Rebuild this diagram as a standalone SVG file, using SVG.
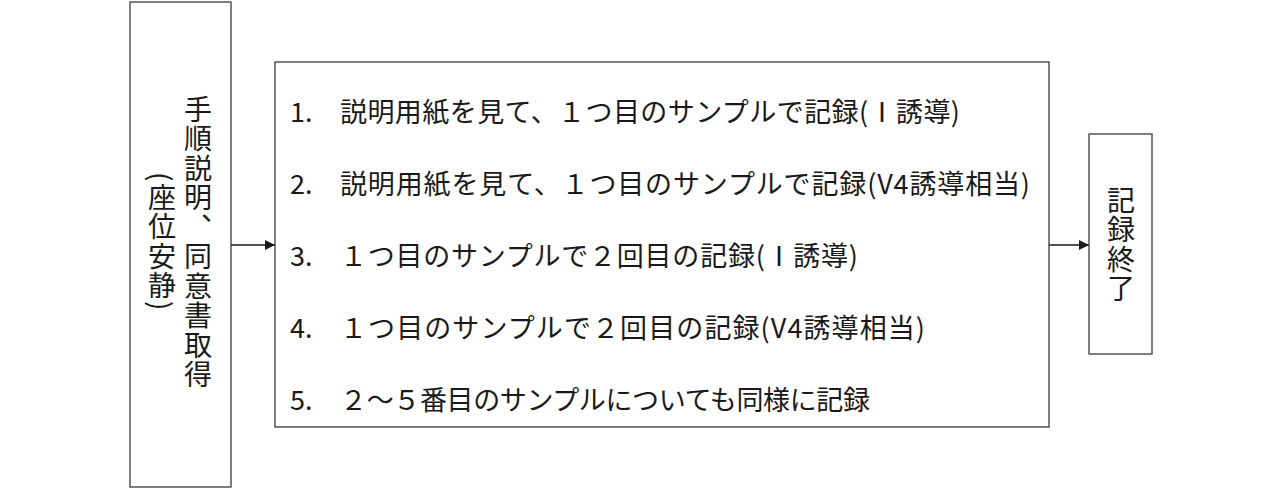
<svg xmlns="http://www.w3.org/2000/svg" width="1284" height="490" viewBox="0 0 1284 490">
<style>
.box{fill:#fff;stroke:#3a3a3a;stroke-width:1.3}
.t{font-family:"Noto Sans CJK JP","Noto Sans",sans-serif;fill:#1a1a1a}
.h{font-size:27px}
.v{font-size:28px;writing-mode:vertical-rl;letter-spacing:1.5px}
.c{stroke:#1a1a1a;stroke-width:1.3;fill:none}
</style>
<defs>
<marker id="ah" viewBox="0 0 10 10" refX="10" refY="5" markerWidth="10" markerHeight="10" markerUnits="userSpaceOnUse" orient="auto">
<path d="M0,0 L10,5 L0,10 Z" fill="#1a1a1a"/>
</marker>
</defs>
<rect width="1284" height="490" fill="#fff"/>
<g id="connectors">
<line class="c" x1="231" y1="245" x2="275" y2="245" marker-end="url(#ah)"/>
<line class="c" x1="1049" y1="245" x2="1089" y2="245" marker-end="url(#ah)"/>
</g>
<g id="node-prep">
<rect class="box" x="130" y="2" width="101" height="485"/>
<text class="t v" x="198" y="95">手順説明、同意書取得</text>
<text class="t v" x="162" y="172">(座位安静)</text>
</g>
<g id="node-steps">
<rect class="box" x="275" y="62" width="774" height="365"/>
<text class="t h" x="290" y="122">1.</text>
<text class="t h" x="340" y="122" textLength="620" lengthAdjust="spacing">説明用紙を見て、１つ目のサンプルで記録(Ⅰ誘導)</text>
<text class="t h" x="290" y="194">2.</text>
<text class="t h" x="340" y="194" textLength="690" lengthAdjust="spacing">説明用紙を見て、１つ目のサンプルで記録(V4誘導相当)</text>
<text class="t h" x="290" y="266">3.</text>
<text class="t h" x="340" y="266" textLength="518" lengthAdjust="spacing">１つ目のサンプルで２回目の記録(Ⅰ誘導)</text>
<text class="t h" x="290" y="338">4.</text>
<text class="t h" x="340" y="338" textLength="585" lengthAdjust="spacing">１つ目のサンプルで２回目の記録(V4誘導相当)</text>
<text class="t h" x="290" y="410">5.</text>
<text class="t h" x="340" y="410" textLength="530" lengthAdjust="spacing">２～５番目のサンプルについても同様に記録</text>
</g>
<g id="node-end">
<rect class="box" x="1089" y="134" width="63" height="220"/>
<text class="t v" x="1121" y="186">記録終了</text>
</g>
</svg>
